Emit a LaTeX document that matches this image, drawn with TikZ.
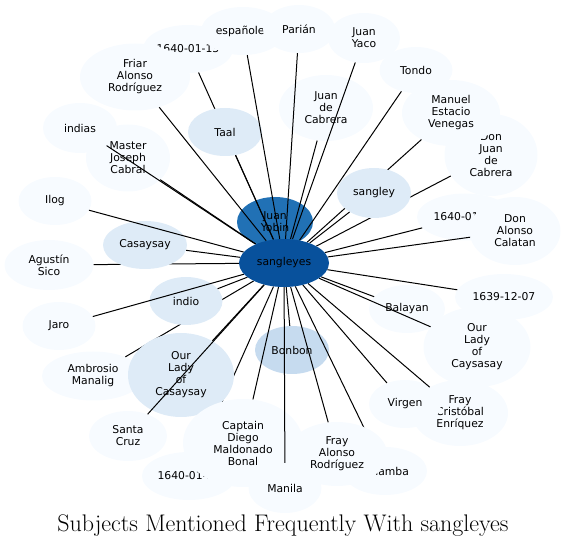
\documentclass[tikz,border=0pt]{standalone}
\usepackage{fontspec}
\newfontfamily\nodefont{DejaVu Sans}
\usetikzlibrary{shapes.geometric}
\definecolor{blueA}{HTML}{F7FBFF}
\definecolor{blueB}{HTML}{DEEBF7}
\definecolor{blueC}{HTML}{C6DBEF}
\definecolor{blueG}{HTML}{2171B5}
\definecolor{blueH}{HTML}{08519C}
\pgfdeclarelayer{front}
\pgfsetlayers{main,front}
\tikzset{
  bub/.style 2 args={ellipse,draw=none,inner sep=0pt,align=center,
    font=\nodefont\fontsize{10.8}{12}\selectfont,minimum width=#1,minimum height=#2},
  edge/.style={black,line width=1pt}}

\begin{document}
\begin{tikzpicture}[x=1pt,y=-1pt]
\useasboundingbox (0,0) rectangle (566,548);
% centre
\begin{pgfonlayer}{front}
\node[bub={90}{48},fill=blueH] (sangleyes) at (284,263) {sangleyes};
\end{pgfonlayer}
% outer ring
\node[bub={90}{48},fill=blueA] (d1313) at (188,49) {1640-01-13};
\node[bub={84}{48},fill=blueA] (espanoles) at (243,31) {españoles};
\node[bub={72}{48},fill=blueA] (parian) at (299,29) {Parián};
\node[bub={72}{50},fill=blueA] (yaco) at (364,38) {Juan\\Yaco};
\node[bub={73}{46},fill=blueA] (tondo) at (416,70) {Tondo};
\node[bub={110}{67},fill=blueA] (friar) at (135,77) {Friar\\Alonso\\Rodríguez};
\node[bub={74}{50},fill=blueA] (indias) at (80,128) {indias};
\node[bub={84}{67},fill=blueA] (joseph) at (128,158) {Master\\Joseph\\Cabral};
\node[bub={73}{48},fill=blueA] (ilog) at (55,201) {Ilog};
\node[bub={89}{50},fill=blueA] (sico) at (49,265) {Agustín\\Sico};
\node[bub={94}{66},fill=blueA] (cabrera) at (326,108) {Juan\\de\\Cabrera};
\node[bub={93}{82},fill=blueA] (doncabrera) at (491,155) {Don\\Juan\\de\\Cabrera};
\node[bub={98}{66},fill=blueA] (venegas) at (451,113) {Manuel\\Estacio\\Venegas};
\node[bub={96}{47},fill=blueA] (d0111) at (465,217) {1640-01-11};
\node[bub={91}{68},fill=blueA] (calatan) at (515,231) {Don\\Alonso\\Calatan};
\node[bub={98}{46},fill=blueA] (d1207) at (504,297) {1639-12-07};
\node[bub={73}{48},fill=blueA] (jaro) at (59,326) {Jaro};
\node[bub={76}{50},fill=blueG] (yobin) at (275,222) {Juan\\Yobin};
\node[bub={74}{48},fill=blueC] (bonbon) at (292,350) {Bonbon};
\node[bub={76}{48},fill=blueA] (balayan) at (407,309) {Balayan};
\node[bub={107}{80},fill=blueA] (caysasay) at (477,347) {Our\\Lady\\of\\Caysasay};
\node[bub={96}{66},fill=blueA] (enriquez) at (460,413) {Fray\\Cristóbal\\Enríquez};
\node[bub={72}{48},fill=blueA] (virgen) at (405,404) {Virgen};
\node[bub={84}{48},fill=blueA] (calamba) at (385,471) {Calamba};
\node[bub={94}{48},fill=blueA] (d0115) at (189,476) {1640-01-15};
\node[bub={102}{49},fill=blueA] (ambrosio) at (93,376) {Ambrosio\\Manalig};
\node[bub={78}{50},fill=blueA] (santacruz) at (128,436) {Santa\\Cruz};
\node[bub={73}{50},fill=blueA] (manila) at (285,488) {Manila};
% edges under the inner ring
\foreach \n in {sico,ambrosio,d0115,d1313,venegas,doncabrera,calamba}
  \draw[edge] (sangleyes) -- (\n);
% inner ring
\node[bub={84}{48},fill=blueB] (casaysay) at (145,245) {Casaysay};
\node[bub={73}{48},fill=blueB] (indio) at (186,301) {indio};
\node[bub={106}{84},fill=blueB] (olc) at (181,375) {Our\\Lady\\of\\Casaysay};
\node[bub={74}{48},fill=blueB] (taal) at (225,132) {Taal};
\node[bub={74}{50},fill=blueB] (sangley) at (374,193) {sangley};
\node[bub={100}{64},fill=blueA] (alonso) at (337,454) {Fray\\Alonso\\Rodríguez};
\node[bub={120}{88},fill=blueA] (captain) at (243,443) {Captain\\Diego\\Maldonado\\Bonal};
% edges on top
\foreach \n in {espanoles,parian,yaco,tondo,friar,indias,joseph,ilog,cabrera,
    casaysay,taal,sangley,d0111,calatan,d1207,jaro,balayan,caysasay,enriquez,
    virgen,indio,olc,santacruz,captain,alonso,manila,bonbon}
  \draw[edge] (sangleyes) -- (\n);
% title
\node[font=\fontsize{24}{28}\selectfont,anchor=base] (title) at (283,532)
  {Subjects Mentioned Frequently With sangleyes};
\end{tikzpicture}
\end{document}
